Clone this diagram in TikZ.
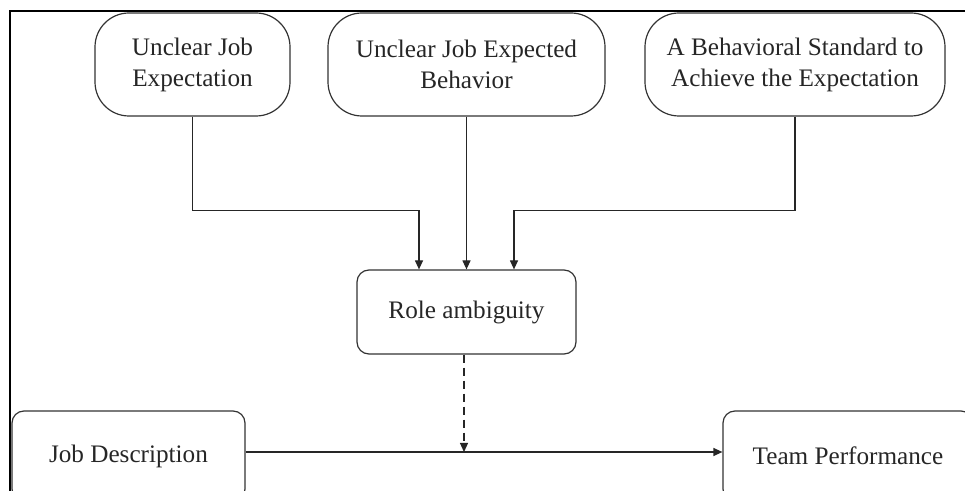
\documentclass[tikz,border=0pt]{standalone}
\usepackage{fontspec}
\setmainfont{Liberation Serif}
\usetikzlibrary{arrows.meta}
\begin{document}
\begin{tikzpicture}[x=0.5pt,y=-0.5pt,
  every node/.style={font=\fontsize{12.6}{15.5}\selectfont, text=black!85},
  bigbox/.style={draw=black!80, line width=0.6pt, rounded corners=17pt, minimum height=51.5pt, align=center, inner sep=0pt},
  smallbox/.style={draw=black!80, line width=0.6pt, rounded corners=6pt, align=center, inner sep=0pt},
  arr/.style={draw=black!85, line width=0.6pt, -{Triangle[length=4.5pt,width=4pt]}},
  frame/.style={draw=black, line width=0.9pt}]
\useasboundingbox (0,0) rectangle (965,491);
\clip (0,0) rectangle (965,491);
\draw[frame] (10,500) -- (10,11) -- (975,11);
\node[bigbox, minimum width=97.5pt] (b1) at (192.5,64.5) {Unclear Job\\Expectation};
\node[bigbox, minimum width=138.5pt] (b2) at (466.5,64.5) {Unclear Job Expected\\Behavior};
\node[bigbox, minimum width=150pt] (b3) at (795,64.5) {A Behavioral Standard to\\Achieve the Expectation};
\node[smallbox, minimum width=109.5pt, minimum height=42pt] (role) at (466.5,312) {Role ambiguity};
\node[smallbox, minimum width=116.5pt, minimum height=45pt] (jd) at (128.5,456) {Job Description};
\node[smallbox, minimum width=125pt, minimum height=45pt] (tp) at (848,456) {Team Performance};
\draw[arr] (b1.south) -- ++(0,94) -| ([xshift=-23.75pt]role.north);
\draw[arr] (b2.south) -- (role.north);
\draw[arr] (b3.south) -- ++(0,94) -| ([xshift=23.75pt]role.north);
\draw[arr] ([yshift=2pt]jd.east) -- ([yshift=2pt]tp.west);
\coordinate (hit) at ([xshift=-1.25pt,yshift=2pt]role.south |- jd.east);
\draw[arr, dash pattern=on 4pt off 2.5pt] ([xshift=-1.25pt]role.south) -- (hit);
\end{tikzpicture}
\end{document}
